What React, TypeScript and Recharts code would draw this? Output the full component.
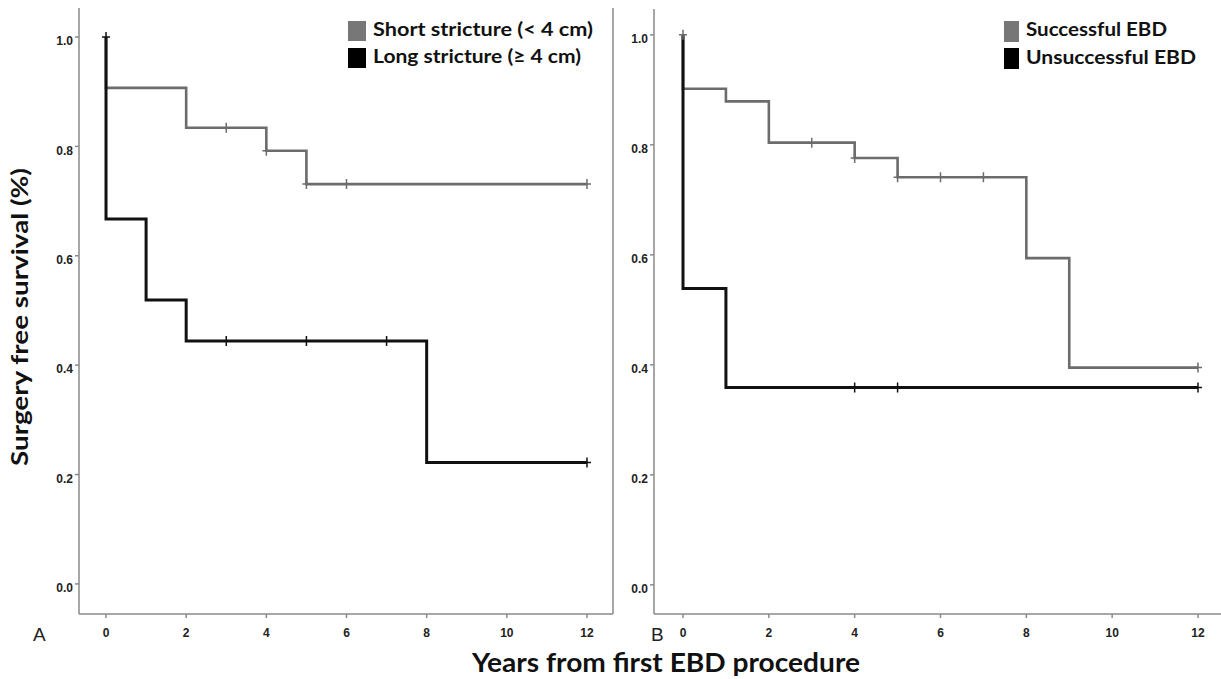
import React from 'react';
import { ComposedChart, Line, Scatter, XAxis, YAxis, ReferenceLine } from 'recharts';

const yearTicks = [0, 2, 4, 6, 8, 10, 12];
const survivalTicks = [0, 0.2, 0.4, 0.6, 0.8, 1.0];

// Panel A: stricture length
const shortTimes = [0, 0, 2, 4, 5, 12];
const shortSurv = [1.0, 0.907, 0.834, 0.792, 0.731, 0.731];
const shortCensorTimes = [3, 4, 5, 6, 12];
const shortCensorSurv = [0.834, 0.792, 0.731, 0.731, 0.731];
const longTimes = [0, 0, 1, 2, 8, 12];
const longSurv = [1.0, 0.667, 0.519, 0.444, 0.222, 0.222];
const longCensorTimes = [0, 3, 5, 7, 12];
const longCensorSurv = [1.0, 0.444, 0.444, 0.444, 0.222];

// Panel B: EBD outcome
const successTimes = [0, 0, 1, 2, 4, 5, 8, 9, 12];
const successSurv = [1.0, 0.902, 0.879, 0.804, 0.776, 0.741, 0.594, 0.395, 0.395];
const successCensorTimes = [0, 3, 4, 5, 6, 7, 12];
const successCensorSurv = [1.0, 0.804, 0.776, 0.741, 0.741, 0.741, 0.395];
const failTimes = [0, 0, 1, 12];
const failSurv = [1.0, 0.539, 0.359, 0.359];
const failCensorTimes = [4, 5, 12];
const failCensorSurv = [0.359, 0.359, 0.359];

const legendA = ['Short stricture (< 4 cm)', 'Long stricture (\u2265 4 cm)'];
const legendB = ['Successful EBD', 'Unsuccessful EBD'];
const yTitle = 'Surgery free survival (%)';
const xTitle = 'Years from first EBD procedure';

const GREY = '#6c6c6c';
const BLACK = '#111111';
const AXIS = '#8a8a8a';

const pts = (t: number[], s: number[]) => t.map((v, i) => ({ t: v, s: s[i] }));

const tickFont = "'Liberation Sans Narrow', 'Liberation Sans', Arial, sans-serif";

const YTick = (props: any) => {
  const { x, y, payload } = props;
  return (
    <text x={x} y={y + 4} dy="0.355em" textAnchor="end" fontSize={12} fontWeight="bold" fill="#222" fontFamily={tickFont}>
      {Number(payload.value).toFixed(1)}
    </text>
  );
};

const XTick = (props: any) => {
  const { x, y, payload } = props;
  return (
    <text x={x} y={y} dy="0.71em" textAnchor="middle" fontSize={12} fontWeight="bold" fill="#222" fontFamily={tickFont}>
      {payload.value}
    </text>
  );
};

const censorShape = (color: string) => (props: any) => {
  const { cx, cy } = props;
  return (
    <path d={`M${cx - 4},${cy}H${cx + 4}M${cx},${cy - 5}V${cy + 5}`} stroke={color} strokeWidth={1.5} fill="none" />
  );
};

type Panel = {
  left: number;
  width: number;
  top: number;
  yWidth: number;
  right: number;
  xDomain: [number, number];
  yDomain: [number, number];
  greyLine: { t: number; s: number }[];
  blackLine: { t: number; s: number }[];
  greyCensor: { t: number; s: number }[];
  blackCensor: { t: number; s: number }[];
  rightBorder: boolean;
};

const KMPanel = ({ p }: { p: Panel }) => (
  <div style={{ position: 'absolute', left: p.left, top: 0 }}>
    <ComposedChart width={p.width} height={679} margin={{ top: p.top, right: p.right, bottom: 0, left: 0 }}>
      <XAxis
        dataKey="t"
        type="number"
        domain={p.xDomain}
        ticks={yearTicks}
        allowDataOverflow
        height={65}
        stroke={AXIS}
        strokeWidth={1.5}
        tickSize={4}
        tickMargin={10}
        tick={<XTick />}
        interval={0}
      />
      <YAxis
        dataKey="s"
        type="number"
        domain={p.yDomain}
        ticks={survivalTicks}
        allowDataOverflow
        width={p.yWidth}
        stroke={AXIS}
        strokeWidth={1.5}
        tickSize={4}
        tickMargin={2}
        tick={<YTick />}
        interval={0}
      />
      {p.rightBorder && <ReferenceLine x={p.xDomain[1]} stroke={AXIS} strokeWidth={1.5} />}
      <Line data={p.greyLine} dataKey="s" type="stepAfter" stroke={GREY} strokeWidth={2.6} dot={false} isAnimationActive={false} />
      <Line data={p.blackLine} dataKey="s" type="stepAfter" stroke={BLACK} strokeWidth={3} dot={false} isAnimationActive={false} />
      <Scatter data={p.greyCensor} dataKey="s" shape={censorShape(GREY)} isAnimationActive={false} />
      <Scatter data={p.blackCensor} dataKey="s" shape={censorShape(BLACK)} isAnimationActive={false} />
    </ComposedChart>
  </div>
);

const panelA: Panel = {
  left: 0,
  width: 620,
  top: 8,
  yWidth: 79,
  right: 7,
  xDomain: [-0.674, 12.649],
  yDomain: [-0.055, 1.053],
  greyLine: pts(shortTimes, shortSurv),
  blackLine: pts(longTimes, longSurv),
  greyCensor: pts(shortCensorTimes, shortCensorSurv),
  blackCensor: pts(longCensorTimes, longCensorSurv),
  rightBorder: true,
};

const panelB: Panel = {
  left: 620,
  width: 601,
  top: 9,
  yWidth: 34,
  right: 0,
  xDomain: [-0.676, 12.536],
  yDomain: [-0.053, 1.047],
  greyLine: pts(successTimes, successSurv),
  blackLine: pts(failTimes, failSurv),
  greyCensor: pts(successCensorTimes, successCensorSurv),
  blackCensor: pts(failCensorTimes, failCensorSurv),
  rightBorder: false,
};

const titleFont = "Lato, 'Open Sans', sans-serif";

export default function App() {
  return (
    <div style={{ position: 'absolute', left: 0, top: 0, width: 1221, height: 679, background: '#fff', overflow: 'hidden' }}>
      <KMPanel p={panelA} />
      <KMPanel p={panelB} />
      <svg width={1221} height={679} style={{ position: 'absolute', left: 0, top: 0, pointerEvents: 'none' }}>
        {/* legend A */}
        <rect x={348} y={21} width={18} height={20} fill="#777" />
        <rect x={348} y={48} width={18} height={20} fill="#000" />
        <text x={373} y={36} fontFamily={titleFont} fontWeight="bold" fontSize={19} fill="#111" textLength={220} lengthAdjust="spacingAndGlyphs">{legendA[0]}</text>
        <text x={373} y={63} fontFamily={titleFont} fontWeight="bold" fontSize={19} fill="#111" textLength={208} lengthAdjust="spacingAndGlyphs">{legendA[1]}</text>
        {/* legend B */}
        <rect x={1004} y={21} width={15} height={21} fill="#777" />
        <rect x={1004} y={48} width={15} height={21} fill="#000" />
        <text x={1026} y={36} fontFamily={titleFont} fontWeight="bold" fontSize={19} fill="#111" textLength={141} lengthAdjust="spacingAndGlyphs">{legendB[0]}</text>
        <text x={1026} y={64} fontFamily={titleFont} fontWeight="bold" fontSize={19} fill="#111" textLength={170} lengthAdjust="spacingAndGlyphs">{legendB[1]}</text>
        {/* panel letters */}
        <text x={33} y={641} fontFamily="'Liberation Sans', Arial, sans-serif" fontSize={19} fill="#222">A</text>
        <text x={651} y={641} fontFamily="'Liberation Sans', Arial, sans-serif" fontSize={19} fill="#222">B</text>
        {/* axis titles */}
        <text x={666} y={672} textAnchor="middle" fontFamily={titleFont} fontWeight="bold" fontSize={26} fill="#111" textLength={388} lengthAdjust="spacingAndGlyphs">{xTitle}</text>
        <text x={28} y={317} textAnchor="middle" transform="rotate(-90, 28, 317)" fontFamily={titleFont} fontWeight="bold" fontSize={22} fill="#111" textLength={298} lengthAdjust="spacingAndGlyphs">{yTitle}</text>
      </svg>
    </div>
  );
}
